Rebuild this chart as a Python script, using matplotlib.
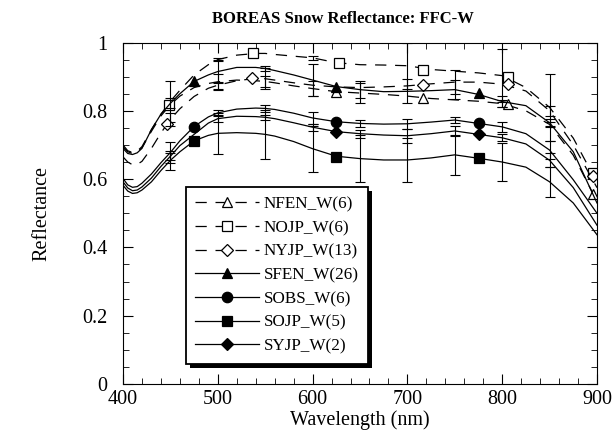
import matplotlib
matplotlib.use('Agg')
import matplotlib.pyplot as plt
from matplotlib.lines import Line2D
from matplotlib.patches import Rectangle
from matplotlib.ticker import MultipleLocator

plt.rcParams['font.family'] = ['Liberation Serif', 'DejaVu Serif']

# wavelength grid (nm) shared by all spectra
wl = [400, 405, 410, 415, 420, 430, 440, 450, 460, 475, 490, 500, 520, 540, 550,
      560, 580, 600, 625, 650, 675, 700, 725, 750, 775, 800, 825, 850, 875, 900]

nfen = [.695, .68, .675, .679, .692, .74, .785, .818, .843, .868, .88, .885, .89, .888, .886,
        .882, .873, .865, .856, .852, .848, .843, .836, .832, .828, .821, .80, .76, .67, .535]
nojp = [.70, .683, .678, .682, .695, .745, .79, .828, .86, .905, .935, .95, .963, .968, .968,
        .965, .96, .955, .941, .935, .934, .932, .921, .916, .911, .903, .868, .81, .72, .59]
nyjp = [.665, .65, .642, .643, .652, .69, .735, .775, .806, .842, .866, .875, .888, .895, .894,
        .89, .882, .875, .87, .868, .87, .873, .879, .884, .884, .878, .858, .80, .70, .575]
sfen = [.69, .675, .672, .677, .69, .745, .79, .822, .85, .886, .905, .915, .927, .927, .924,
        .918, .905, .89, .871, .862, .856, .857, .859, .862, .848, .827, .815, .765, .68, .53]
sobs = [.602, .583, .576, .578, .588, .615, .648, .678, .712, .754, .782, .794, .805, .808, .807,
        .804, .793, .779, .768, .763, .761, .762, .767, .773, .763, .753, .733, .685, .598, .50]
sojp = [.582, .565, .558, .56, .568, .592, .625, .655, .68, .712, .728, .734, .736, .734, .731,
        .726, .71, .689, .667, .66, .656, .656, .662, .671, .661, .65, .635, .592, .53, .437]
syjp = [.592, .574, .566, .568, .577, .603, .637, .667, .698, .731, .764, .777, .784, .783, .781,
        .777, .765, .752, .739, .733, .729, .727, .733, .741, .731, .721, .703, .655, .575, .465]

# symbol positions
nfen_mx, nfen_my = [625, 716, 806, 896], [.856, .837, .819, .557]
nojp_mx, nojp_my = [448, 537, 628, 716, 806, 896], [.817, .969, .939, .92, .90, .617]
nyjp_mx, nyjp_my = [446, 536, 716, 806, 896], [.761, .895, .876, .878, .61]
sfen_mx, sfen_my = [475, 625, 776], [.886, .871, .851]
sobs_mx, sobs_my = [475, 625, 776], [.754, .768, .763]
sojp_mx, sojp_my = [475, 625, 776], [.712, .666, .661]
syjp_mx, syjp_my = [625, 776], [.739, .731]

# error bars (std dev) every 50 nm
eb_wl = [450, 500, 550, 600, 650, 700, 750, 800, 850]
nfen_err = [0.0, .024, .015, .023, .03, 0.0, 0.0, .01, .006]
nojp_err = [.06, .005, 0.0, .005, 0.0, .067, 0.0, .078, .098]
nyjp_err = [.02, .01, .03, 0.0, 0.0, 0.0, .036, 0.0, .015]
sfen_err = [.015, .034, .008, .048, .025, .035, .027, .015, .01]
sobs_err = [.032, .009, .01, .017, .01, .015, .01, .015, .027]
sojp_err = [.028, .06, .071, .067, .068, .064, .058, .056, .044]
syjp_err = [.01, .01, .008, .01, .012, .02, .015, .01, .02]

labels = ['NFEN_W(6)', 'NOJP_W(6)', 'NYJP_W(13)', 'SFEN_W(26)', 'SOBS_W(6)', 'SOJP_W(5)', 'SYJP_W(2)']

series = [
    (nfen, nfen_mx, nfen_my, nfen_err, '^', True),
    (nojp, nojp_mx, nojp_my, nojp_err, 's', True),
    (nyjp, nyjp_mx, nyjp_my, nyjp_err, 'D', True),
    (sfen, sfen_mx, sfen_my, sfen_err, '^', False),
    (sobs, sobs_mx, sobs_my, sobs_err, 'o', False),
    (sojp, sojp_mx, sojp_my, sojp_err, 's', False),
    (syjp, syjp_mx, syjp_my, syjp_err, 'D', False),
]

fig = plt.figure(figsize=(6.15, 4.4), dpi=100)
ax = fig.add_axes([0.2, 0.1273, 0.7707, 0.7761])

dash = (0, (9, 7))
handles = []
for (vals, mx, my, err, mk, north), lab in zip(series, labels):
    ls = dash if north else '-'
    ax.plot(wl, vals, color='k', lw=0.9, ls=ls)
    ms = 5.8 if mk == 'D' else 7.5
    ax.plot(mx, my, ls='none', marker=mk, ms=ms, mec='k', mew=0.9,
            mfc='white' if north else 'k')
    # only draw the bars that show up in the figure
    ex = [w for w, e in zip(eb_wl, err) if e > 0]
    ey = [vals[wl.index(w)] for w, e in zip(eb_wl, err) if e > 0]
    ee = [e for e in err if e > 0]
    ax.errorbar(ex, ey, yerr=ee, fmt='none', ecolor='k', elinewidth=0.8,
                capsize=3.5, capthick=0.8)
    handles.append(Line2D([], [], color='k', lw=0.9, ls=ls, marker=mk, ms=ms,
                          mec='k', mew=0.9, mfc='white' if north else 'k'))

ax.set_xlim(400, 900)
ax.set_ylim(0, 1)
ax.xaxis.set_major_locator(MultipleLocator(100))
ax.xaxis.set_minor_locator(MultipleLocator(20))
ax.yaxis.set_minor_locator(MultipleLocator(0.05))
ax.set_yticks([0, 0.2, 0.4, 0.6, 0.8, 1.0])
ax.set_yticklabels(['0', '0.2', '0.4', '0.6', '0.8', '1'])
ax.tick_params(which='both', direction='in', top=True, right=True, labelsize=14.5)
ax.tick_params(axis='x', pad=4)
ax.tick_params(axis='y', pad=11)
ax.tick_params(which='major', length=7, width=0.8)
ax.tick_params(which='minor', length=4, width=0.6)
for s in ax.spines.values():
    s.set_linewidth(0.8)

ax.set_title('BOREAS Snow Reflectance: FFC-W', fontsize=12, fontweight='bold', pad=14, x=0.465)
ax.set_xlabel('Wavelength (nm)', fontsize=14.5)
ax.xaxis.label.set_va('center')
ax.xaxis.set_label_coords(0.5, -0.105)
ax.set_ylabel('Reflectance', fontsize=14.5)
ax.yaxis.set_label_coords(-0.15, 0.5)

leg = ax.legend(handles, labels, loc='upper left', bbox_to_anchor=(0.133, 0.577),
                borderaxespad=0, fontsize=12.3, handlelength=3.7, handletextpad=0.3,
                labelspacing=0.45, borderpad=0.55, fancybox=False, framealpha=1,
                edgecolor='k')
leg.get_frame().set_linewidth(1.3)

# heavy drop shadow offset to the lower right of the legend box
fig.canvas.draw()
bb = leg.get_frame().get_window_extent()
ax.add_patch(Rectangle((bb.x0 + 4, bb.y0 - 4), bb.width, bb.height, transform=None,
                       facecolor='k', edgecolor='none', zorder=leg.get_zorder() - 0.1))

fig.savefig('out.png', dpi=100, facecolor='white')
